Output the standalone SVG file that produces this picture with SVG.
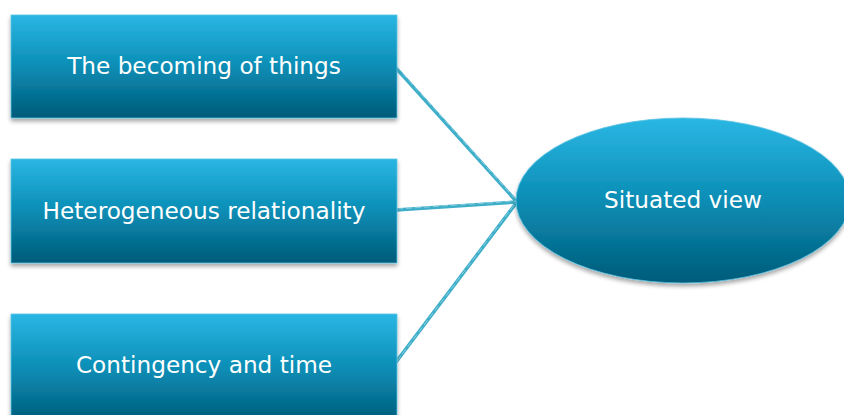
<svg xmlns="http://www.w3.org/2000/svg" width="844" height="415" viewBox="0 0 844 415">
<defs>
<linearGradient id="g" x1="0" y1="0" x2="0" y2="1">
<stop offset="0" stop-color="#2ab7e3"/>
<stop offset="0.5" stop-color="#0a8db5"/>
<stop offset="1" stop-color="#025b79"/>
</linearGradient>
<filter id="sh" x="-5%" y="-5%" width="110%" height="120%">
<feGaussianBlur in="SourceAlpha" stdDeviation="2"/>
<feOffset dx="0" dy="3" result="b"/>
<feComponentTransfer><feFuncA type="linear" slope="0.35"/></feComponentTransfer>
<feMerge><feMergeNode/><feMergeNode in="SourceGraphic"/></feMerge>
</filter>
</defs>
<style>
.box{fill:url(#g);stroke:#5cc3e3;stroke-width:0.8;filter:url(#sh)}
.lbl{font-family:"DejaVu Sans",Verdana,sans-serif;font-size:23.2px;fill:#ffffff;text-anchor:middle}
.con{stroke:#3eaec9;stroke-width:3.5;fill:none;stroke-linecap:round}
.con2{stroke:#9ad6e6;stroke-width:0.8;fill:none;stroke-dasharray:6 3}
</style>
<rect width="844" height="415" fill="#ffffff"/>
<g id="connectors">
<line class="con" x1="396" y1="68" x2="517" y2="202"/>
<line class="con" x1="396" y1="210" x2="517" y2="202"/>
<line class="con" x1="396" y1="362" x2="517" y2="202"/>
<line class="con2" x1="397" y1="67" x2="517" y2="201"/>
<line class="con2" x1="397" y1="209" x2="517" y2="201"/>
<line class="con2" x1="397" y1="361" x2="517" y2="201"/>
</g>
<g id="node1">
<rect class="box" x="11" y="15" width="386" height="103"/>
<text class="lbl" x="204" y="74">The becoming of things</text>
</g>
<g id="node2">
<rect class="box" x="11" y="159" width="386" height="104"/>
<text class="lbl" x="204" y="219">Heterogeneous relationality</text>
</g>
<g id="node3">
<rect class="box" x="11" y="314" width="386" height="110"/>
<text class="lbl" x="204" y="373">Contingency and time</text>
</g>
<g id="node4">
<ellipse class="box" cx="683" cy="200.5" rx="167" ry="82.5"/>
<text class="lbl" x="683" y="208">Situated view</text>
</g>
</svg>
